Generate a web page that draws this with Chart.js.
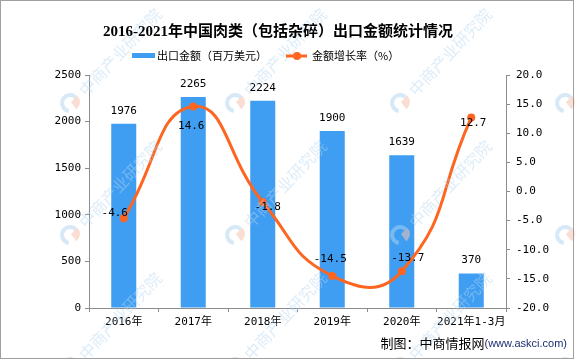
<!DOCTYPE html>
<html>
<head>
<meta charset="utf-8">
<script src="https://cdn.jsdelivr.net/npm/chart.js@4.4.1/dist/chart.umd.min.js"></script>
<style>
    html, body { margin: 0; padding: 0; background: #fff; }
    #wrap { width: 575px; height: 359px; }
</style>
</head>
<body>
<div id="wrap"><canvas id="chart" width="575" height="359"></canvas></div>
<script>
// Chart data
const categories = ['2016年', '2017年', '2018年', '2019年', '2020年', '2021年1-3月'];
const exportValues = [1976, 2265, 2224, 1900, 1639, 370];
const growthRates = [-4.6, 14.6, -1.8, -14.5, -13.7, 12.7];
const leftTicks = [0, 500, 1000, 1500, 2000, 2500];
const rightTicks = [-20, -15, -10, -5, 0, 5, 10, 15, 20];

const barColor = '#3f9ef2';
const lineColor = '#fd6520';
const axisColor = '#8c8c8c';
const numFont = '"DejaVu Sans Mono", "Noto Sans CJK SC", monospace';
const cjkFont = '"Noto Sans CJK SC", sans-serif';

// where each growth label sits relative to its point
const rateLabelShift = [[-9, -5], [-2, 20], [5, 5], [-2, -17], [6, -13], [2, 6]];

// Faint "中商产业研究院" watermark tiles
function drawWatermark(ctx) {
    ctx.save();
    for (let i = -1; i <= 3; i++) {
        for (let j = -1; j <= 2; j++) {
            const cx = 70 + 165 * i;
            const cy = 103 + 132 * j;
            // logo
            ctx.lineWidth = 4;
            ctx.strokeStyle = 'rgba(175, 212, 240, 0.5)';
            ctx.beginPath();
            ctx.arc(cx, cy, 8, 0.55 * Math.PI, 1.75 * Math.PI);
            ctx.stroke();
            ctx.fillStyle = 'rgba(245, 195, 175, 0.55)';
            ctx.beginPath();
            ctx.moveTo(cx + 1, cy - 1);
            ctx.arc(cx + 1, cy - 1, 9, 1.75 * Math.PI, 0.3 * Math.PI);
            ctx.closePath();
            ctx.fill();
            // text running up to the right
            ctx.save();
            ctx.translate(cx + 12, cy - 10);
            ctx.rotate(-0.82);
            ctx.fillStyle = 'rgba(180, 213, 240, 0.45)';
            ctx.font = '16px ' + cjkFont;
            ctx.textAlign = 'left';
            ctx.textBaseline = 'middle';
            ctx.fillText('中商产业研究院', 0, 0);
            ctx.restore();
        }
    }
    ctx.restore();
}

// Title, legend, footer, border and value labels
const decorPlugin = {
    id: 'decor',
    beforeDraw(chart) {
        const ctx = chart.ctx;
        ctx.save();
        ctx.fillStyle = '#fff';
        ctx.fillRect(0, 0, chart.width, chart.height);
        ctx.restore();
    },
    afterDatasetsDraw(chart) {
        const ctx = chart.ctx;
        drawWatermark(ctx);

        ctx.save();
        ctx.fillStyle = '#000';
        ctx.font = '11px ' + numFont;
        ctx.textAlign = 'center';
        ctx.textBaseline = 'middle';

        // bar value labels (dataset 1 is the bars)
        chart.getDatasetMeta(1).data.forEach((bar, i) => {
            ctx.fillText(String(exportValues[i]), bar.x, bar.y - 13);
        });

        // growth rate labels (dataset 0 is the line)
        chart.getDatasetMeta(0).data.forEach((pt, i) => {
            const s = rateLabelShift[i];
            ctx.fillText(growthRates[i].toFixed(1), pt.x + s[0], pt.y + s[1]);
        });
        ctx.restore();
    },
    afterDraw(chart) {
        const ctx = chart.ctx;
        ctx.save();

        // title
        ctx.fillStyle = '#000';
        ctx.font = 'bold 15px "Liberation Serif", "Noto Sans CJK SC", serif';
        ctx.textAlign = 'center';
        ctx.textBaseline = 'middle';
        ctx.fillText('2016-2021年中国肉类（包括杂碎）出口金额统计情况', 278, 32);

        // legend
        ctx.fillStyle = barColor;
        ctx.fillRect(132, 53, 23, 5);
        ctx.fillStyle = '#000';
        ctx.font = '11px ' + cjkFont;
        ctx.textAlign = 'left';
        ctx.fillText('出口金额（百万美元）', 157, 56);

        ctx.strokeStyle = lineColor;
        ctx.lineWidth = 3;
        ctx.beginPath();
        ctx.moveTo(286, 56);
        ctx.lineTo(307, 56);
        ctx.stroke();
        ctx.fillStyle = lineColor;
        ctx.beginPath();
        ctx.arc(297, 56, 4, 0, Math.PI * 2);
        ctx.fill();
        ctx.fillStyle = '#000';
        ctx.fillText('金额增长率（%）', 312, 56);

        // footer, right aligned
        ctx.textAlign = 'right';
        ctx.fillStyle = '#1f2f6e';
        ctx.font = '11px "Liberation Sans", sans-serif';
        ctx.fillText('(www.askci.com)', 567, 344);
        const w = ctx.measureText('(www.askci.com)').width;
        ctx.fillStyle = '#000';
        ctx.font = '13px ' + cjkFont;
        ctx.fillText('制图：中商情报网', 567 - w, 343);

        // outer frame
        ctx.strokeStyle = '#a0a0a0';
        ctx.lineWidth = 1;
        ctx.strokeRect(0.5, 0.5, chart.width - 2, chart.height - 1);
        ctx.restore();
    }
};

function createChart() {
    const ctx = document.getElementById('chart').getContext('2d');

    new Chart(ctx, {
        data: {
            labels: categories,
            datasets: [
                {
                    type: 'line',
                    label: '金额增长率（%）',
                    data: growthRates,
                    yAxisID: 'y1',
                    borderColor: lineColor,
                    backgroundColor: lineColor,
                    borderWidth: 3,
                    tension: 0.5,
                    pointRadius: 4,
                    pointBackgroundColor: lineColor,
                    pointBorderWidth: 0,
                    order: 0
                },
                {
                    type: 'bar',
                    label: '出口金额（百万美元）',
                    data: exportValues,
                    yAxisID: 'y',
                    backgroundColor: barColor,
                    categoryPercentage: 1,
                    barPercentage: 0.36,
                    order: 1
                }
            ]
        },
        options: {
            responsive: false,
            animation: false,
            layout: { padding: { top: 75, bottom: 0, left: 0, right: 0 } },
            plugins: {
                legend: { display: false },
                title: { display: false },
                tooltip: { enabled: false }
            },
            scales: {
                x: {
                    offset: true,
                    grid: {
                        display: true,
                        drawOnChartArea: false,
                        offset: true,
                        tickLength: 4,
                        color: axisColor
                    },
                    border: { color: axisColor },
                    ticks: {
                        color: '#000',
                        padding: 4,
                        maxRotation: 0,
                        autoSkip: false,
                        font: { family: numFont, size: 11 }
                    },
                    afterFit(scale) { scale.height = 51; }
                },
                y: {
                    position: 'left',
                    min: 0,
                    max: 2500,
                    afterBuildTicks(scale) { scale.ticks = leftTicks.map(v => ({ value: v })); },
                    grid: {
                        drawOnChartArea: false,
                        tickLength: 4,
                        color: axisColor
                    },
                    border: { color: axisColor },
                    ticks: {
                        color: '#000',
                        padding: 4,
                        font: { family: numFont, size: 11 },
                        callback: v => String(v)
                    },
                    afterFit(scale) { scale.width = 89; }
                },
                y1: {
                    position: 'right',
                    min: -20,
                    max: 20,
                    afterBuildTicks(scale) { scale.ticks = rightTicks.map(v => ({ value: v })); },
                    grid: {
                        drawOnChartArea: false,
                        tickLength: 4,
                        color: axisColor
                    },
                    border: { color: axisColor },
                    ticks: {
                        color: '#000',
                        padding: 6,
                        font: { family: numFont, size: 11 },
                        callback: v => Number(v).toFixed(1)
                    },
                    afterFit(scale) { scale.width = 69; }
                }
            }
        },
        plugins: [decorPlugin]
    });
}

document.addEventListener('DOMContentLoaded', createChart);
</script>
</body>
</html>
